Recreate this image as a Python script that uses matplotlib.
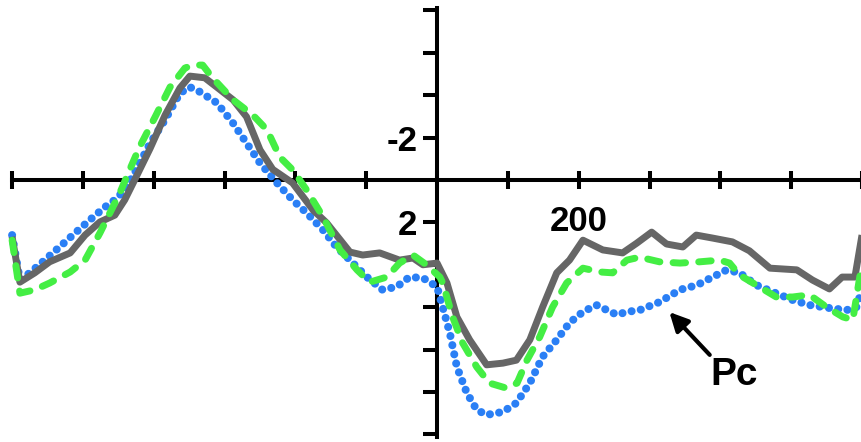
import matplotlib
matplotlib.use("Agg")
import matplotlib.pyplot as plt
import numpy as np

# ---- data (time in ms, amplitude in microvolts; negative plotted up) ----
gray_t = [-600, -589, -568, -547, -518, -497, -476, -455, -441, -427, -405, -384, -363, -349,
          -328, -311, -288, -269, -250, -232, -204, -175, -156, -123, -105, -81, -53, -34, -20,
          0, 14, 28, 46, 70, 93, 112, 131, 149, 169, 187, 206, 234, 262, 282, 303, 324, 347,
          366, 389, 417, 441, 470, 508, 530, 554, 572, 590, 600]
gray_v = [2.68, 4.82, 4.38, 3.86, 3.44, 2.60, 1.98, 1.66, 0.94, 0.00, -1.50, -3.06, -4.34, -4.90,
          -4.82, -4.38, -3.78, -2.98, -1.42, -0.50, 0.14, 1.42, 2.02, 3.40, 3.54, 3.44, 3.78, 3.68, 4.00,
          3.92, 4.86, 6.46, 7.54, 8.72, 8.64, 8.50, 7.54, 6.00, 4.38, 3.78, 2.84, 3.30, 3.44, 2.98, 2.46,
          3.02, 3.16, 2.60, 2.74, 2.92, 3.34, 4.16, 4.24, 4.72, 5.14, 4.58, 4.58, 2.60]

green_t = [-600, -589, -568, -547, -518, -497, -476, -462, -448, -434, -420, -398, -377, -356,
           -345, -331, -317, -288, -260, -240, -222, -204, -184, -161, -137, -113, -95, -71, -53,
           -34, -15, 4, 8, 22, 36, 56, 74, 98, 113, 127, 145, 163, 183, 206, 230, 248, 268, 286,
           314, 343, 371, 399, 413, 427, 451, 479, 502, 526, 550, 573, 587, 600]
green_v = [2.84, 5.34, 5.18, 4.86, 4.34, 3.78, 2.50, 1.56, 0.62, -0.48, -1.56, -2.98, -4.38, -5.28,
           -5.42, -5.42, -4.82, -3.78, -3.06, -2.36, -1.08, -0.48, 0.48, 1.74, 3.30, 4.24, 4.82, 4.58, 3.92,
           3.54, 4.00, 4.58, 4.86, 6.46, 7.68, 8.82, 9.58, 9.82, 9.58, 8.50, 7.40, 6.00, 4.86, 4.16, 4.34,
           4.38, 3.78, 3.64, 3.86, 3.92, 3.86, 3.78, 3.92, 4.48, 4.96, 5.52, 5.52, 5.42, 6.00, 6.46, 6.60, 3.92]

blue_t = [-600, -589, -575, -554, -533, -511, -490, -469, -455, -441, -427, -405, -384, -363,
          -349, -335, -311, -288, -269, -250, -226, -204, -184, -161, -142, -123, -99, -77, -57,
          -39, -20, 0, 8, 18, 28, 42, 56, 70, 93, 112, 131, 149, 169, 187, 206, 225, 240, 254,
          268, 286, 314, 343, 367, 389, 409, 427, 451, 474, 502, 526, 554, 578, 592, 600]
blue_v = [2.60, 4.72, 4.38, 3.78, 3.16, 2.50, 1.88, 1.28, 0.94, 0.48, -0.34, -1.74, -2.84, -4.10,
          -4.38, -4.16, -3.64, -2.68, -1.74, -0.80, 0.14, 0.94, 1.56, 2.36, 3.16, 3.78, 4.58, 5.18, 5.04,
          4.58, 4.62, 5.04, 6.00, 7.22, 8.82, 10.04, 10.84, 11.08, 10.94, 10.52, 9.58, 8.34, 7.54, 6.74,
          6.22, 5.90, 6.14, 6.36, 6.22, 6.14, 5.76, 5.18, 4.96, 4.58, 4.24, 4.38, 4.96, 5.28, 5.66, 5.90,
          6.04, 6.14, 6.00, 5.18]

x_ticks = list(range(-600, 601, 100))
x_labels = {200: "200"}
y_ticks = [-8, -6, -4, -2, 2, 4, 6, 8, 10, 12]
y_labels = {-2: "-2", 2: "2"}
annot_text = "Pc"

# ---- figure ----
plt.rcParams['font.family'] = ['Liberation Sans', 'DejaVu Sans']
plt.rcParams['font.weight'] = 'bold'

fig = plt.figure(figsize=(8.62, 4.42), dpi=100)
ax = fig.add_axes([0, 0, 1, 1])
ax.set_xlim(-617.1, 599.3)
ax.set_ylim(12.36, -8.49)
ax.set_facecolor('white')

ax.plot(blue_t, blue_v, color='#2a7ff5', lw=5.8, linestyle=(0, (0.01, 1.15)),
        dash_capstyle='round', solid_joinstyle='round', zorder=3)
ax.plot(gray_t, gray_v, color='#666666', lw=5.0, solid_joinstyle='round',
        solid_capstyle='butt', zorder=4)
ax.plot(green_t, green_v, color='#44ee44', lw=5.0, linestyle=(0, (1.8, 1.9)),
        dash_capstyle='round', zorder=5)

for s in ('top', 'right'):
    ax.spines[s].set_visible(False)
ax.spines['bottom'].set_position(('data', 0))
ax.spines['left'].set_position(('data', 0))
ax.spines['bottom'].set_bounds(-600, 600)
ax.spines['left'].set_bounds(-8.1, 12.12)
for s in ('bottom', 'left'):
    ax.spines[s].set_linewidth(2.9)
    ax.spines[s].set_capstyle('projecting')
    ax.spines[s].set_zorder(2)

ax.set_xticks(x_ticks)
ax.set_xticklabels([x_labels.get(t, "") for t in x_ticks])
ax.set_yticks(y_ticks)
ax.set_yticklabels([y_labels.get(t, "") for t in y_ticks])
ax.tick_params(axis='x', direction='inout', length=13.5, width=2.9, pad=11,
               labelsize=25)
ax.tick_params(axis='y', direction='out', length=10, width=2.9, pad=4,
               labelsize=25)
for lab in ax.get_xticklabels() + ax.get_yticklabels():
    lab.set_fontweight('bold')

ax.annotate('', xy=(328, 6.23), xytext=(385, 8.25),
            arrowprops=dict(arrowstyle='-|>', lw=3, color='black', mutation_scale=28,
                            shrinkA=0, shrinkB=0), zorder=6)
ax.text(420, 9.2, annot_text, fontsize=28, fontweight='bold', ha='center', va='center', zorder=6)

fig.savefig('out.png', dpi=100, facecolor='white')
